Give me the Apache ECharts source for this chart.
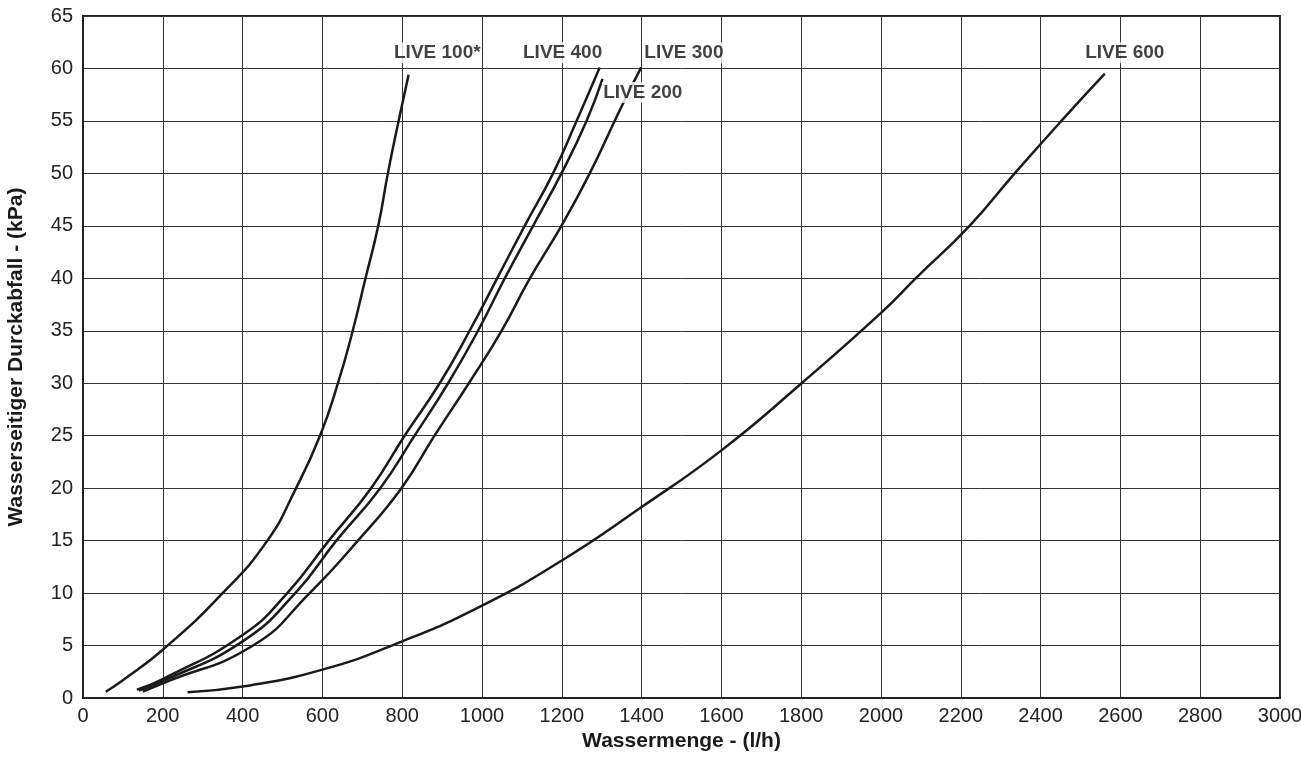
<!DOCTYPE html>
<html>
<head>
<meta charset="utf-8">
<script src="https://cdn.jsdelivr.net/npm/echarts@6/dist/echarts.min.js"></script>
<style>
  html, body { margin: 0; padding: 0; background: #fff; }
  #echart { width: 1301px; height: 758px; }
</style>
</head>
<body>
<div id="echart"></div>
<script>
// Wassermenge (l/h) und Durckabfall (kPa)
var live100X = [57, 100, 200, 350, 462, 534, 594, 639, 676, 708, 740, 764, 791, 816];
var live100Y = [0.6, 1.7, 4.6, 10, 15, 20, 25, 30, 35, 40, 45, 50, 55, 59.4];

var live400X = [135, 200, 400, 512, 616, 722, 806, 894, 969, 1038, 1107, 1178, 1237, 1295];
var live400Y = [0.8, 1.8, 6.0, 10, 15, 20, 25, 30, 35, 40, 45, 50, 55, 60.1];

var live200X = [140, 200, 400, 532, 635, 745, 831, 915, 990, 1057, 1128, 1199, 1262, 1302];
var live200Y = [0.7, 1.6, 5.4, 10, 15, 20, 25, 30, 35, 40, 45, 50, 55, 59];

var live300X = [150, 200, 426, 568, 689, 798, 881, 967, 1049, 1120, 1199, 1270, 1345, 1399];
var live300Y = [0.6, 1.4, 5, 10, 15, 20, 25, 30, 35, 40, 45, 50, 56, 60.1];

var live600X = [262, 400, 600, 800, 1000, 1200, 1400, 1600, 1801, 2000, 2087, 2222, 2335, 2452, 2561];
var live600Y = [0.55, 1.1, 2.7, 5.4, 8.8, 13.1, 18.2, 23.6, 30, 36.7, 40, 45, 50, 55, 59.5];

var labelNames = ['LIVE 100*', 'LIVE 400', 'LIVE 300', 'LIVE 200', 'LIVE 600'];
var labelX = [888, 1202, 1506, 1403, 2611];
var labelY = [61.5, 61.5, 61.5, 57.7, 61.5];

function pairs(xs, ys) {
    var out = [];
    for (var i = 0; i < xs.length; i++) {
        out.push([xs[i], ys[i]]);
    }
    return out;
}

function curve(name, xs, ys) {
    return {
        name: name,
        type: 'line',
        smooth: 0.5,
        showSymbol: false,
        silent: true,
        data: pairs(xs, ys),
        lineStyle: { color: '#1a1a1a', width: 2.5 },
        z: 3
    };
}

var labelData = [];
for (var i = 0; i < labelNames.length; i++) {
    labelData.push({ name: labelNames[i], value: [labelX[i], labelY[i]] });
}

var myChart = echarts.init(document.getElementById('echart'));

var option = {
    backgroundColor: '#fff',
    animation: false,
    textStyle: { fontFamily: 'Liberation Sans, Arial, sans-serif' },
    grid: {
        left: 83,
        right: 21,
        top: 16,
        bottom: 60,
        containLabel: false,
        outerBoundsMode: 'none',
        show: true,
        borderColor: '#222',
        borderWidth: 2
    },
    xAxis: {
        type: 'value',
        min: 0,
        max: 3000,
        interval: 200,
        name: 'Wassermenge - (l/h)',
        nameLocation: 'middle',
        nameGap: 33,
        nameTextStyle: { fontSize: 21, fontWeight: 'bold', color: '#1a1a1a' },
        axisLine: { show: true, lineStyle: { color: '#222', width: 2 } },
        axisTick: { show: false },
        axisLabel: {
            fontSize: 20, color: '#222', margin: 8,
            formatter: function (v) { return String(v); }
        },
        splitLine: { show: true, lineStyle: { color: '#333', width: 1 } }
    },
    yAxis: {
        type: 'value',
        min: 0,
        max: 65,
        interval: 5,
        name: 'Wasserseitiger Durckabfall - (kPa)',
        nameLocation: 'middle',
        nameGap: 56,
        nameTextStyle: { fontSize: 21, fontWeight: 'bold', color: '#1a1a1a' },
        axisLine: { show: true, lineStyle: { color: '#222', width: 2 } },
        axisTick: { show: false },
        axisLabel: {
            fontSize: 20, color: '#222', margin: 10,
            formatter: function (v) { return String(v); }
        },
        splitLine: { show: true, lineStyle: { color: '#333', width: 1 } }
    },
    series: [
        curve('LIVE 100*', live100X, live100Y),
        curve('LIVE 400', live400X, live400Y),
        curve('LIVE 200', live200X, live200Y),
        curve('LIVE 300', live300X, live300Y),
        curve('LIVE 600', live600X, live600Y),
        {
            name: 'labels',
            type: 'scatter',
            symbolSize: 0,
            silent: true,
            data: labelData,
            z: 10,
            label: {
                show: true,
                position: 'inside',
                formatter: '{b}',
                fontSize: 19,
                fontWeight: 'bold',
                color: '#111',
                backgroundColor: '#fff',
                padding: [1, 1]
            }
        }
    ]
};
myChart.setOption(option);
</script>
</body>
</html>
